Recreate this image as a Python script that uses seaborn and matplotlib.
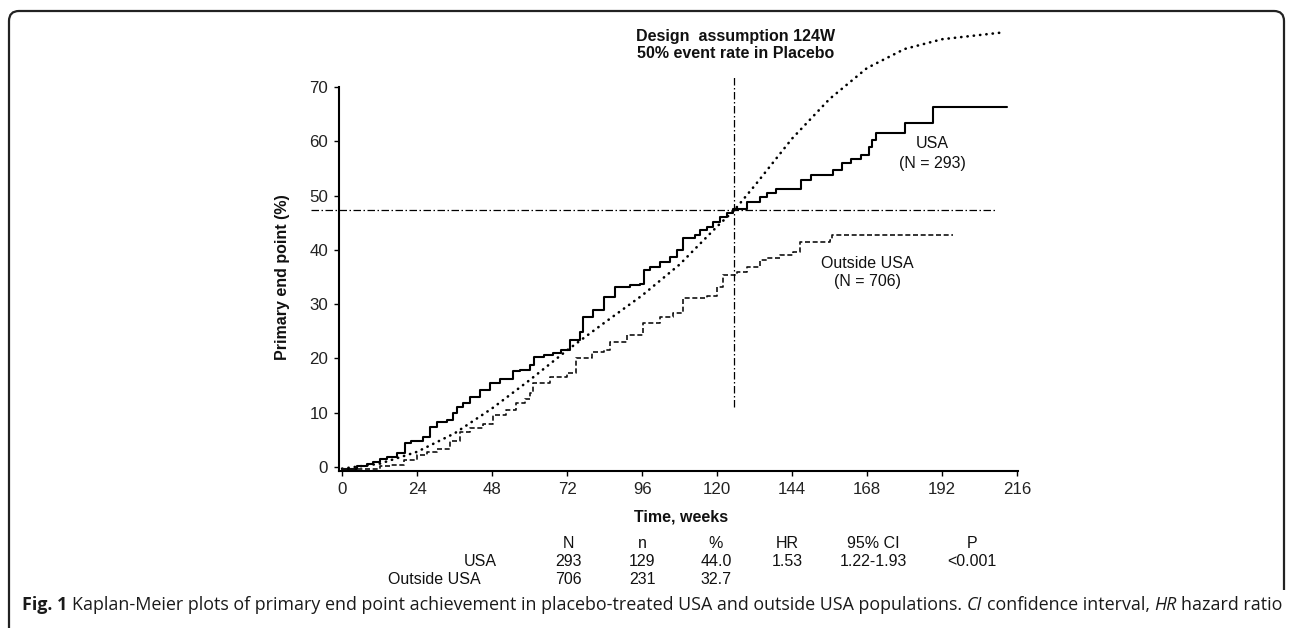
import matplotlib
matplotlib.use("Agg")
import matplotlib.pyplot as plt
import seaborn as sns
from matplotlib.path import Path
from matplotlib.patches import PathPatch
from matplotlib.transforms import IdentityTransform
from matplotlib import font_manager

# ---------------- data ----------------
usa_weeks = [0, 4.7, 7.9, 10.0, 12.2, 14.3, 17.5, 20.2, 22.0, 26.0, 28.2, 30.3, 33.5, 35.6,
             36.7, 38.8, 41.0, 44.2, 47.4, 50.6, 54.8, 57.0, 60.2, 61.5, 64.5, 67.5, 70.0,
             73.0, 76.2, 77.2, 80.4, 83.7, 87.4, 92.2, 95.4, 96.5, 98.6, 101.8, 105.0,
             107.1, 109.2, 113.0, 114.6, 116.7, 118.8, 121.0, 123.1, 125.2, 129.5, 133.8,
             136.0, 139.0, 147.0, 150.0, 157.0, 160.0, 163.0, 166.0, 168.5, 169.5, 171.0,
             180.0, 189.0, 212.8]
usa_pct = [-0.3, 0.2, 0.5, 0.9, 1.4, 1.9, 2.5, 4.4, 4.7, 5.6, 7.4, 8.3, 8.7, 9.9,
           11.1, 11.7, 12.9, 14.2, 15.4, 16.3, 17.7, 17.9, 18.8, 20.2, 20.6, 21.0, 21.6,
           23.4, 24.9, 27.7, 28.9, 31.4, 33.2, 33.5, 33.8, 36.3, 36.9, 37.8, 38.7,
           40.0, 42.1, 42.7, 43.6, 44.2, 45.2, 46.1, 46.7, 47.5, 48.9, 49.8,
           50.5, 51.2, 52.9, 53.7, 54.7, 56.0, 56.8, 57.5, 59.0, 60.2, 61.5,
           63.3, 66.3, 66.3]

out_weeks = [0, 12.2, 15.4, 19.7, 23.9, 27.1, 30.3, 34.5, 37.7, 41.0, 45.2, 48.4, 52.6,
             55.8, 58.5, 60.2, 61.0, 66.6, 72.0, 75.0, 80.0, 83.7, 85.8, 91.1, 96.4,
             101.8, 106.0, 109.2, 116.7, 119.9, 122.0, 126.3, 129.5, 133.8, 136.0,
             140.0, 144.3, 146.6, 156.0, 156.8, 195.5]
out_pct = [-0.3, 0.1, 0.4, 1.3, 2.2, 2.8, 3.4, 4.7, 6.5, 7.1, 8.0, 9.6, 10.5,
           11.7, 12.6, 13.6, 15.5, 16.6, 17.3, 20.0, 21.2, 21.5, 23.1, 24.3, 26.5,
           27.7, 28.3, 31.1, 31.5, 33.2, 35.4, 36.0, 36.9, 38.1, 38.5,
           39.0, 39.6, 41.4, 41.8, 42.7, 42.7]

design_weeks = [0, 12, 24, 36, 48, 60, 72, 84, 96, 108, 120, 125.5, 132, 144, 156, 168,
                180, 192, 210.6]
design_pct = [-0.3, 0.6, 2.8, 6.2, 10.8, 16.0, 21.5, 26.6, 31.6, 37.3, 44.3, 47.3, 51.8,
              60.5, 67.8, 73.5, 77.0, 78.8, 80.0]

ref_week = 125.5          # design assumption time
ref_pct = 47.3            # 50% event rate level
ref_vline_span = [11, 72]
ref_hline_span = [-10, 209]

xticks = [0, 24, 48, 72, 96, 120, 144, 168, 192, 216]
yticks = [0, 10, 20, 30, 40, 50, 60, 70]

table_header = ["N", "n", "%", "HR", "95% CI", "P"]
table_rows = ["USA", "Outside USA"]
table_usa = ["293", "129", "44.0", "1.53", "1.22-1.93", "<0.001"]
table_out = ["706", "231", "32.7", "", "", ""]

# ---------------- figure ----------------
sns.set_theme(style="white")
plt.rcParams["font.family"] = ["Liberation Sans", "DejaVu Sans"]

W, H = 1292, 628
fig = plt.figure(figsize=(W / 100, H / 100), dpi=100)


def fx(px):
    return px / W


def fy(py):
    return 1 - py / H


ax = fig.add_axes([fx(339), fy(471), (1018 - 339) / W, (471 - 87) / H])

sns.lineplot(x=design_weeks, y=design_pct, ax=ax, color="black", estimator=None,
             sort=False, lw=1.9)
l_design = ax.lines[-1]
l_design.set_linestyle((0, (0.1, 2.3)))
l_design.set_dash_capstyle("round")
l_design.set_clip_on(False)

sns.lineplot(x=usa_weeks, y=usa_pct, ax=ax, color="black", estimator=None, sort=False,
             lw=1.5, drawstyle="steps-post")
sns.lineplot(x=out_weeks, y=out_pct, ax=ax, color="#111111", estimator=None, sort=False,
             lw=1.2, drawstyle="steps-post")
ax.lines[-1].set_linestyle((0, (3.0, 1.6)))

dashdot = (0, (6, 2, 1.2, 2))
ax.vlines(ref_week, ref_vline_span[0], ref_vline_span[1], colors="black", lw=0.9,
          linestyles=[dashdot], clip_on=False)
ax.hlines(ref_pct, ref_hline_span[0], ref_hline_span[1], colors="black", lw=0.9,
          linestyles=[dashdot], clip_on=False)

ax.set_xlim(-1, 216.3)
ax.set_ylim(-0.74, 70)
ax.set_xticks(xticks)
ax.set_yticks(yticks)
ax.set_xticklabels([str(v) for v in xticks])
ax.set_yticklabels([str(v) for v in yticks])
for s in ["top", "right"]:
    ax.spines[s].set_visible(False)
for s in ["left", "bottom"]:
    ax.spines[s].set_linewidth(1.5)
    ax.spines[s].set_color("black")
ax.tick_params(axis="both", direction="out", length=3.8, width=1.0, colors="black",
               labelsize=12.2, labelcolor="#222222", pad=4, left=True, bottom=True)
ax.set_xlabel("")
ax.set_ylabel("")

txt_kw = dict(fontsize=11.5, color="#111111")
fig.text(fx(282), fy(277), "Primary end point (%)", rotation=90, ha="center",
         va="center", fontweight="bold", **txt_kw)
fig.text(fx(681), fy(517), "Time, weeks", ha="center", va="center", fontweight="bold",
         **txt_kw)

fig.text(fx(736), fy(37), "Design  assumption 124W", ha="center", va="center",
         fontweight="bold", **txt_kw)
fig.text(fx(736), fy(54), "50% event rate in Placebo", ha="center", va="center",
         fontweight="bold", **txt_kw)

fig.text(fx(932), fy(144), "USA", ha="center", va="center", **txt_kw)
fig.text(fx(932), fy(163.5), "(N = 293)", ha="center", va="center", **txt_kw)
fig.text(fx(867), fy(263), "Outside USA", ha="center", va="center", **txt_kw)
fig.text(fx(867), fy(281.5), "(N = 706)", ha="center", va="center", **txt_kw)

# summary table
col_x = [568, 642, 716, 787, 873, 972]
for cx, h, a, b in zip(col_x, table_header, table_usa, table_out):
    fig.text(fx(cx), fy(544), h, ha="center", va="center", **txt_kw)
    fig.text(fx(cx), fy(561), a, ha="center", va="center", **txt_kw)
    if b:
        fig.text(fx(cx), fy(579), b, ha="center", va="center", **txt_kw)
fig.text(fx(480), fy(561), table_rows[0], ha="center", va="center", **txt_kw)
fig.text(fx(434), fy(579), table_rows[1], ha="center", va="center", **txt_kw)

# rounded frame (top, left, right)
r = 10
L, R, T = 9, 1284, 11
Bl, Br = 640, 590
verts = [(L, H - Bl), (L, H - (T + r)), (L, H - T), (L + r, H - T),
         (R - r, H - T), (R, H - T), (R, H - (T + r)), (R, H - Br)]
codes = [Path.MOVETO, Path.LINETO, Path.CURVE3, Path.CURVE3,
         Path.LINETO, Path.CURVE3, Path.CURVE3, Path.LINETO]
fig.patches.append(PathPatch(Path(verts, codes), fill=False, lw=1.6, edgecolor="#222222",
                             transform=IdentityTransform(), figure=fig))

# caption with mixed styles
names = {f.name for f in font_manager.fontManager.ttflist}
cap_font = "Open Sans" if "Open Sans" in names else "DejaVu Sans"
runs = [("Fig. 1", dict(fontweight="bold")),
        ("Kaplan-Meier plots of primary end point achievement in placebo-treated USA and outside USA populations.", {}),
        ("CI", dict(fontstyle="italic")),
        ("confidence interval,", {}),
        ("HR", dict(fontstyle="italic")),
        ("hazard ratio", {})]


def layout_caption(size, x0, ybase, draw=True):
    renderer = fig.canvas.get_renderer()
    space = size * 100 / 72 * 0.26
    x = x0
    arts = []
    for t, kw in runs:
        a = fig.text(x, ybase, t, transform=IdentityTransform(), fontsize=size,
                     family=cap_font, ha="left", va="baseline", color="#1a1a1a", **kw)
        bb = a.get_window_extent(renderer)
        x = bb.x1 + space
        arts.append(a)
    total = x - space - x0
    if not draw:
        for a in arts:
            a.remove()
    return total


fig.canvas.draw()
x_start, x_end = 22, 1278
w12 = layout_caption(12, x_start, H - 610, draw=False)
size = 12 * (x_end - x_start) / w12
layout_caption(size, x_start, H - 610, draw=True)

fig.savefig("out.png", dpi=100, facecolor="white")
